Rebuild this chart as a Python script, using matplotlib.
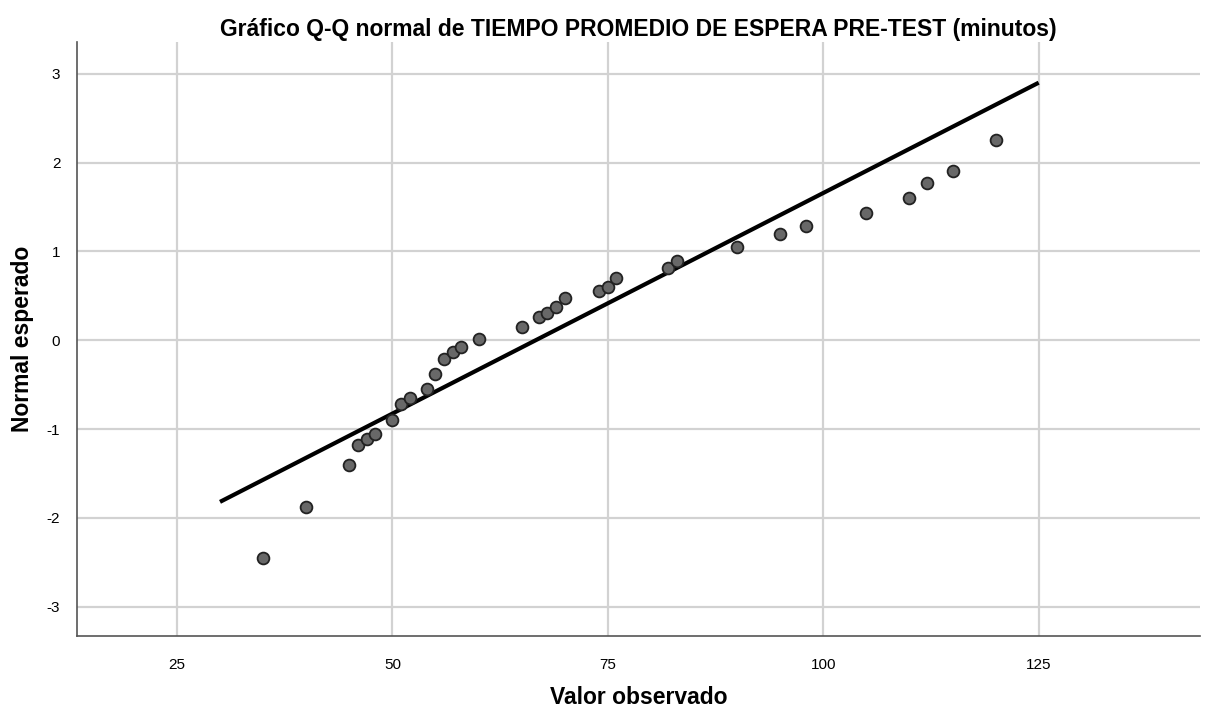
import matplotlib.pyplot as plt

# valores observados (minutos) y normal esperado
observed = [35, 40, 45, 46, 47, 48, 50, 51, 52, 54, 55, 56, 57, 58, 60,
            65, 67, 68, 69, 70, 74, 75, 76, 82, 83, 90, 95, 98, 105, 110,
            112, 115, 120]
expected = [-2.45, -1.88, -1.40, -1.18, -1.11, -1.06, -0.90, -0.72, -0.65,
            -0.55, -0.38, -0.21, -0.13, -0.08, 0.01, 0.15, 0.26, 0.31, 0.37,
            0.47, 0.55, 0.60, 0.70, 0.81, 0.89, 1.05, 1.20, 1.29, 1.43, 1.60,
            1.77, 1.91, 2.26]

# linea de referencia normal
line_x = [30, 125]
line_y = [-1.82, 2.90]

x_ticks = [25, 50, 75, 100, 125]
y_ticks = [-3, -2, -1, 0, 1, 2, 3]

plt.rcParams['font.family'] = ['Liberation Sans', 'DejaVu Sans']
plt.rcParams['axes.unicode_minus'] = False

fig = plt.figure(figsize=(12.1, 7.09), dpi=100)
ax = fig.add_axes([0.0636, 0.103, 0.928, 0.838])

ax.plot(line_x, line_y, color='black', linewidth=3.0, zorder=3, solid_capstyle='butt')
ax.scatter(observed, expected, s=72, facecolor='#686868', edgecolor='#222222',
           linewidth=1.3, zorder=4)

ax.set_xlim(13.4, 143.7)
ax.set_ylim(-3.33, 3.36)
ax.set_xticks(x_ticks)
ax.set_yticks(y_ticks)
ax.grid(True, color='#d2d2d2', linewidth=1.6)
ax.set_axisbelow(True)

for side in ['top', 'right']:
    ax.spines[side].set_visible(False)
for side in ['left', 'bottom']:
    ax.spines[side].set_color('#555555')
    ax.spines[side].set_linewidth(1.2)

ax.tick_params(length=0, labelsize=11, pad=16)
ax.tick_params(axis='y', pad=12)

ax.set_title('Gráfico Q-Q normal de TIEMPO PROMEDIO DE ESPERA PRE-TEST (minutos)',
             fontsize=16.5, fontweight='bold', pad=4)
ax.set_xlabel('Valor observado', fontsize=16.5, fontweight='bold', labelpad=10)
ax.set_ylabel('Normal esperado', fontsize=16.5, fontweight='bold', labelpad=9)

fig.savefig('out.png', dpi=100)
